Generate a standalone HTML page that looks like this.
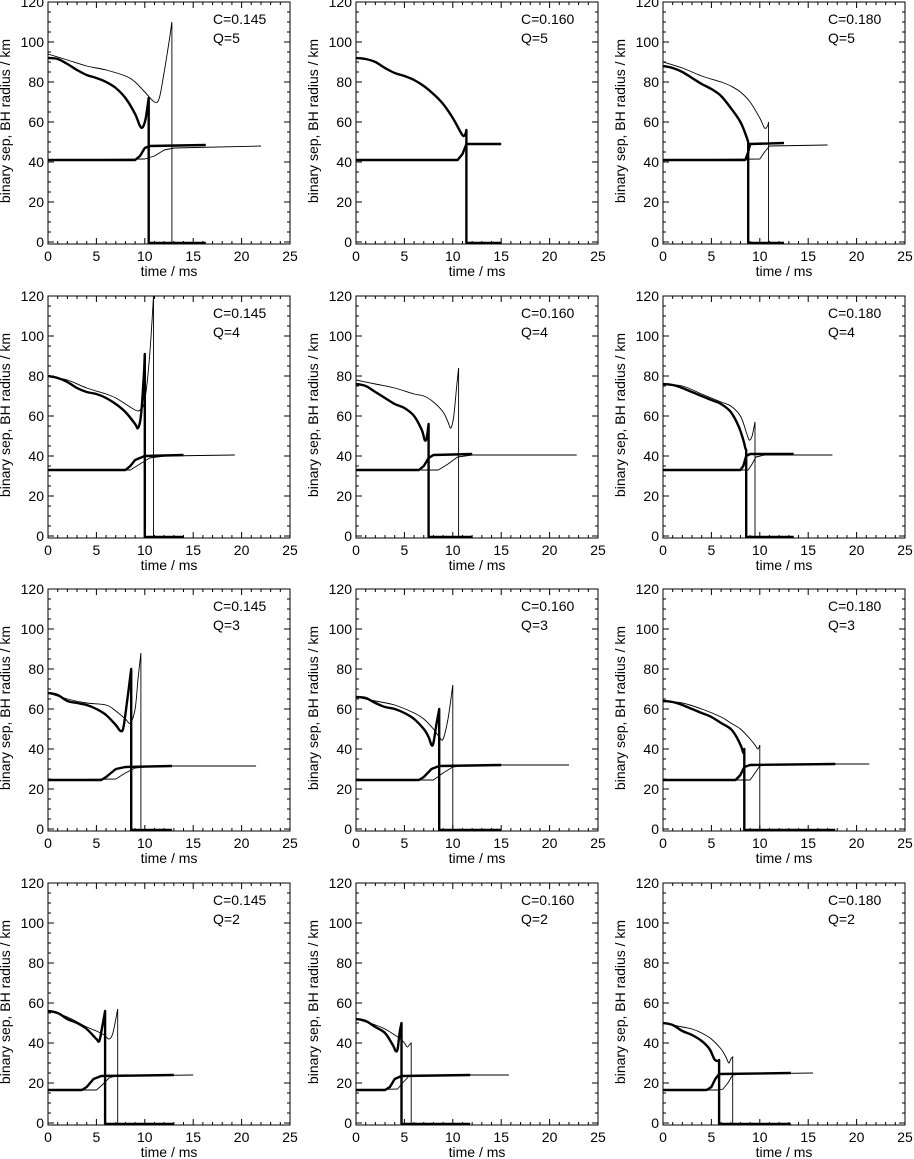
<!DOCTYPE html>
<html><head><meta charset="utf-8"><style>
html,body{margin:0;padding:0;background:#fff;}
svg{display:block;font-family:"Liberation Sans",Arial,sans-serif;}
</style></head><body>
<svg id="fig" width="914" height="1159" viewBox="0 0 914 1159" xmlns="http://www.w3.org/2000/svg"></svg>
<script>
const compactness = ["0.145","0.160","0.180"];
const massRatio = ["5","4","3","2"];
const xTicks = [0,5,10,15,20,25];
const yTicks = [0,20,40,60,80,100,120];
const thickSep = [
 [[[0,92],[1,91.5],[2,89],[3,86],[4,83.5],[5,82],[6,80],[7,77],[8,72],[9,64],[9.5,58],[9.8,57.5],[10.1,62],[10.4,72]],
  [[0,92],[1,91.5],[2,90],[3,87],[4,84.5],[5,83],[6,81],[7,78],[8,74],[9,69],[10,62],[10.8,55],[11.1,53],[11.3,54],[11.4,56]],
  [[0,88],[1,87],[2,85],[3,82],[4,79],[5,76.5],[6,73],[7,67],[8,60],[8.6,53],[8.8,50]]],
 [[[0,80],[1,79],[2,77],[3,74],[4,72],[5,71],[6,69],[7,66],[8,62],[9,56],[9.3,54],[9.6,60],[9.9,80],[10,91]],
  [[0,76],[1,75],[2,72],[3,69],[4,66],[5,64],[6,60],[6.8,53],[7.1,48],[7.3,49],[7.5,56]],
  [[0,76],[1,75.5],[2,74],[3,72],[4,70],[5,68],[6,66],[7,62],[7.8,55],[8.3,48],[8.5,44],[8.6,43]]],
 [[[0,68],[1,67],[2,64],[3,63],[4,62],[5,60],[6,57],[7,52],[7.5,49],[7.8,51],[8.2,65],[8.6,80]],
  [[0,66],[1,65.5],[2,63],[3,61],[4,60],[5,58],[6,55],[7,50],[7.5,46],[7.8,42],[8,43],[8.3,52],[8.6,60]],
  [[0,64],[1,63.5],[2,62],[3,60],[4,58],[5,56],[6,53],[7,50],[7.6,46],[8.1,41],[8.3,38],[8.4,40]]],
 [[[0,56],[1,55],[2,52],[3,50],[4,47],[5,42],[5.3,41],[5.6,48],[5.9,56]],
  [[0,52],[1,51],[2,48],[3,45],[3.8,39],[4.1,36],[4.3,37],[4.5,45],[4.7,50]],
  [[0,50],[1,49],[2,46],[3,44],[4,41],[4.8,37],[5.3,32],[5.6,31],[5.8,31.5]]]
];
const thickBH = [
 [[[0,41],[9,41],[9.5,43],[10,47],[10.5,48],[16.3,48.5]],
  [[0,41],[10.5,41],[11,44],[11.4,49],[15,49]],
  [[0,41],[8.5,41],[8.8,45],[9,49],[12.5,49.5]]],
 [[[0,33],[8,33],[8.5,35],[9,38],[10,40],[14,40.5]],
  [[0,33],[6.5,33],[7,35],[7.5,39],[8,40.5],[12,41]],
  [[0,33],[8,33],[8.3,35],[8.6,40],[9,41],[13.5,41]]],
 [[[0,24.5],[5.5,24.5],[6,26],[7,30],[8,31],[12.8,31.5]],
  [[0,24.5],[6.5,24.5],[7,26],[7.8,30],[8.6,31.5],[15,32]],
  [[0,24.5],[7.5,24.5],[8,27],[8.4,31],[9,32],[17.8,32.5]]],
 [[[0,16.5],[3.5,16.5],[4,18],[4.7,22],[5.5,23.5],[13,24]],
  [[0,16.5],[3,16.5],[3.5,18],[4,22],[4.7,23.5],[11.8,24]],
  [[0,16.5],[4.5,16.5],[5,18],[5.4,22],[5.8,24.5],[13.2,25]]]
];
const thinSep = [
 [[[0,94],[2,91],[4,88],[6,86],[8,83],[9,80],[10,75],[11,70],[11.5,72],[12,85],[12.5,100],[12.8,110]],
  [],
  [[0,90],[2,87],[4,83],[6,80],[7,78],[8,75],[9,70],[10,62],[10.5,57],[10.8,58],[10.9,60]]],
 [[[0,80],[2,78],[4,74],[6,71],[7,69],[8,66],[9,63],[9.5,63],[10,68],[10.5,90],[10.9,120]],
  [[0,78],[2,76],[4,74],[6,71],[7,70],[8,67],[9,62],[9.5,57],[9.8,54],[10.1,60],[10.4,75],[10.6,84]],
  [[0,76],[2,75],[4,71],[6,67],[7,65],[8,60],[8.6,52],[8.9,48],[9.2,50],[9.5,57]]],
 [[[0,68],[2,65],[4,63],[6,62],[7,59],[8,55],[8.5,53],[9,60],[9.3,75],[9.6,88]],
  [[0,66],[2,64],[4,62],[6,58],[7,55],[8,50],[8.6,46],[9,45],[9.5,55],[10,72]],
  [[0,64],[2,63],[4,60],[6,56],[7,53],[8,50],[9,45],[9.5,42],[9.8,40],[10,42]]],
 [[[0,56],[2,53],[4,48],[5,46],[5.8,44],[6.3,42],[6.7,45],[7.2,57]],
  [[0,52],[2,49],[3,47],[4,44],[4.6,42],[5,40],[5.3,38],[5.5,39],[5.7,40]],
  [[0,50],[2,48],[3,47],[4,45],[5,42],[6,37],[6.5,33],[6.8,30],[7,32],[7.2,33]]]
];
const thinBH = [
 [[[0,41],[10,41.5],[11,43],[12,46],[13,47],[22,48]],
  [],
  [[0,41],[10,41.5],[10.5,45],[11,48],[17,48.5]]],
 [[[0,33],[8.5,33],[9.5,36],[10.5,39],[12,40],[19.3,40.5]],
  [[0,33],[8.5,33],[9.5,36],[10.5,39.5],[12,40.5],[22.8,40.5]],
  [[0,33],[8.8,33],[9.2,36],[9.6,39.5],[10.5,40.5],[17.5,40.5]]],
 [[[0,24.5],[7,25],[8,28],[9,30.5],[11,31.5],[21.5,31.5]],
  [[0,24.5],[8,24.5],[9,28],[10,31],[11.5,32],[22,32]],
  [[0,24.5],[9,24.5],[9.5,28],[10,31.5],[11,32.5],[21.3,32.5]]],
 [[[0,16.5],[5,16.5],[5.6,19],[6.3,22.5],[7,23.5],[15,24]],
  [[0,16.5],[4.3,17],[4.8,20],[5.5,23.5],[6.5,24],[15.8,24]],
  [[0,16.5],[5.8,16.5],[6.2,17],[6.7,20],[7.2,24],[8,24.5],[15.5,25]]]
];
const thickEnd = [[16.3,15,12.5],[14,12,13.5],[12.8,15,17.8],[13,11.8,13.2]];

const NS="http://www.w3.org/2000/svg";
const svg=document.getElementById('fig');
function mk(tag,attrs,parent){const e=document.createElementNS(NS,tag);for(const k in attrs)e.setAttribute(k,attrs[k]);(parent||svg).appendChild(e);return e;}
const colL=[48,356,663], rowT=[2,296,589,883], W=242, H=242, YMIN=-1, YMAX=120;
const FS=14;
for(let r=0;r<4;r++)for(let c=0;c<3;c++){
  const L=colL[c],T=rowT[r];
  const sx=t=>L+t/25*W, sy=v=>T+(YMAX-v)/(YMAX-YMIN)*H;
  const g=mk('g',{});
  
  
  const fr=mk('rect',{x:L,y:T,width:W,height:H,fill:'none',stroke:'#000','stroke-width':1},g);
  
  
  let tk='';
  for(let t=0;t<=25;t++){const x=sx(t),len=t%5==0?6:3;tk+=`M${x},${T+H}v${-len}M${x},${T}v${len}`;}
  for(let v=0;v<=120;v+=5){const y=sy(v),len=v%20==0?6:3;tk+=`M${L},${y}h${len}M${L+W},${y}h${-len}`;}
  const tp=mk('path',{d:tk,stroke:'#000','stroke-width':1,fill:'none'},g);
  
  
  xTicks.forEach(t=>{const e=mk('text',{x:sx(t),y:T+H+17,'font-size':FS,'text-anchor':'middle'},g);e.textContent=t;
    
    });
  yTicks.forEach(v=>{const e=mk('text',{x:L-4,y:sy(v)+5,'font-size':FS,'text-anchor':'end'},g);e.textContent=v;
    
    });
  const xt=mk('text',{x:L+W/2,y:T+H+32,'font-size':FS,'text-anchor':'middle'},g);xt.textContent='time / ms';
  
  
  const yt=mk('text',{x:0,y:0,'font-size':FS,'text-anchor':'middle',transform:`translate(${L-38},${T+H/2-2}) rotate(-90)`},g);yt.textContent='binary sep, BH radius / km';
  
  
  const a1=mk('text',{x:L+165,y:T+22,'font-size':FS},g);a1.textContent='C='+compactness[c];
  
  
  const a2=mk('text',{x:L+165,y:T+41,'font-size':FS},g);a2.textContent='Q='+massRatio[r];
  
  
  const pl=(pts)=>pts.map((p,i)=>(i?'L':'M')+sx(p[0]).toFixed(1)+','+sy(p[1]).toFixed(1)).join('');
  const sm=(pts)=>{
    const P=pts.map(p=>[sx(p[0]),sy(p[1])]);
    let d='M'+P[0][0].toFixed(1)+','+P[0][1].toFixed(1);
    for(let i=0;i<P.length-1;i++){
      const p0=P[Math.max(0,i-1)],p1=P[i],p2=P[i+1],p3=P[Math.min(P.length-1,i+2)];
      const c1=[p1[0]+(p2[0]-p0[0])/6,p1[1]+(p2[1]-p0[1])/6];
      const c2=[p2[0]-(p3[0]-p1[0])/6,p2[1]-(p3[1]-p1[1])/6];
      d+=`C${c1[0].toFixed(1)},${c1[1].toFixed(1)} ${c2[0].toFixed(1)},${c2[1].toFixed(1)} ${p2[0].toFixed(1)},${p2[1].toFixed(1)}`;
    }
    return d;
  };
  const ts=thinSep[r][c];
  if(ts.length){
    const last=ts[ts.length-1];
    const p=mk('path',{d:sm(ts)+`L${sx(last[0]).toFixed(1)},${sy(-0.5)}`,fill:'none',stroke:'#000','stroke-width':0.9},g);
    
    
    const b=mk('path',{d:pl(thinBH[r][c]),fill:'none',stroke:'#000','stroke-width':0.9,'stroke-linejoin':'round'},g);
    
    
  }
  const ks=thickSep[r][c], kl=ks[ks.length-1];
  const p=mk('path',{d:sm(ks)+`L${sx(kl[0]).toFixed(1)},${sy(-0.5)}L${sx(thickEnd[r][c]).toFixed(1)},${sy(-0.5)}`,fill:'none',stroke:'#000','stroke-width':2.4,'stroke-linejoin':'round'},g);
  
  
  const b=mk('path',{d:pl(thickBH[r][c]),fill:'none',stroke:'#000','stroke-width':2.4,'stroke-linejoin':'round'},g);
  
  
}
</script>
</body></html>
